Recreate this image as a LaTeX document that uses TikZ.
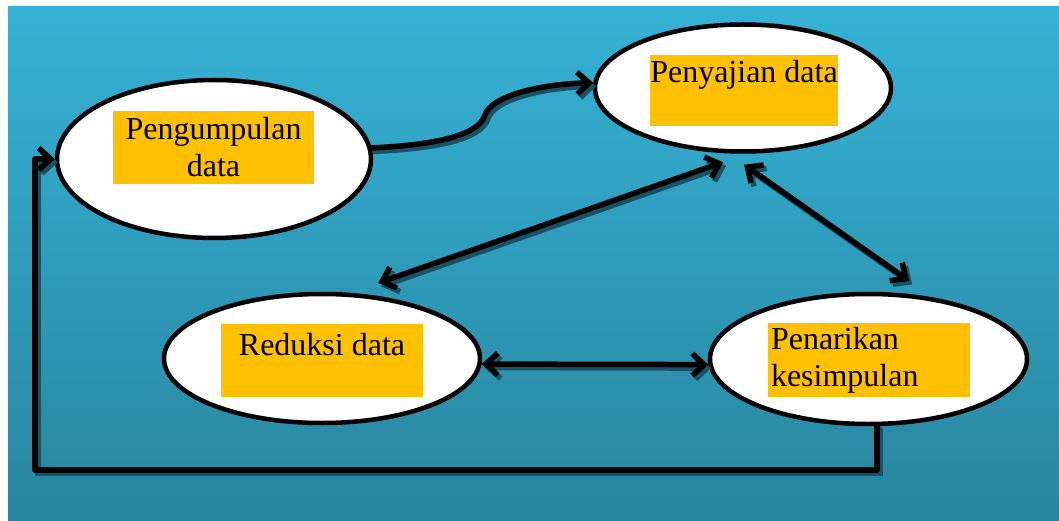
\documentclass[tikz,border=0pt]{standalone}
\usepackage{fontspec}
\setmainfont{Liberation Serif}
\usetikzlibrary{arrows.meta,shapes.geometric}
\definecolor{bgtop}{RGB}{53,178,214}
\definecolor{bgbot}{RGB}{40,133,158}
\definecolor{tagorange}{RGB}{255,192,0}
\definecolor{dropblue}{RGB}{24,82,102}

\begin{document}
\begin{tikzpicture}[x=1pt, y=-1pt, >={Straight Barb[length=12pt,width=22pt]},
  oval/.style = {draw, ellipse, fill=white, line width=4.5pt, inner sep=0pt},
  tag/.style = {fill=tagorange, inner sep=3pt, minimum height=73pt, align=center, font=\fontsize{32}{37}\selectfont},
  flow/.style = {line width=5.5pt, line cap=round, line join=round, preaction={draw=dropblue, line width=5.5pt, line cap=round, transform canvas={shift={(3pt,-3.5pt)}}}}]
\useasboundingbox (0,0) rectangle (1059,521);
\fill[top color=bgtop, bottom color=bgbot] (8,7) rectangle (1059,521);

\node[oval, minimum width=314pt, minimum height=158pt] (kumpul) at (214,159) {};
\node[oval, minimum width=296pt, minimum height=127pt] (saji) at (743,88) {};
\node[oval, minimum width=316pt, minimum height=129pt] (reduksi) at (322,358.5) {};
\node[oval, minimum width=317pt, minimum height=130pt] (tarik) at (868.5,359) {};

\node[tag, text width=195pt] (tagkumpul) at (213.5,147.5) {Pengumpulan\\data};
\node[tag, minimum width=188pt, inner xsep=0pt, minimum height=71pt, text height=24pt, text depth=40pt] (tagsaji) at (744,90.5) {Penyajian data};
\node[tag, minimum width=202pt, inner xsep=0pt, text height=26pt, text depth=37pt] (tagreduksi) at (322,360.5) {Reduksi data};
\node[tag, text width=196pt, minimum height=74pt, align=left] (tagtarik) at (869,360) {Penarikan\\kesimpulan};

\coordinate (sudut) at (35,470);
\draw[flow, ->] (kumpul.4) .. controls (430,145) and (478,137) .. (485,115) .. controls (491,96) and (540,84) .. (saji.178);
\draw[flow, <->] ([yshift=13pt]reduksi.48) -- ([yshift=-9pt]saji.253);
\draw[flow, <->] ([yshift=-11pt]saji.271) -- ([yshift=13pt]tarik.58);
\draw[flow, <->] (reduksi.-2) -- (tarik.182);
\draw[flow, ->] (tarik.277) |- (sudut) |- (kumpul.west);
\end{tikzpicture}
\end{document}
